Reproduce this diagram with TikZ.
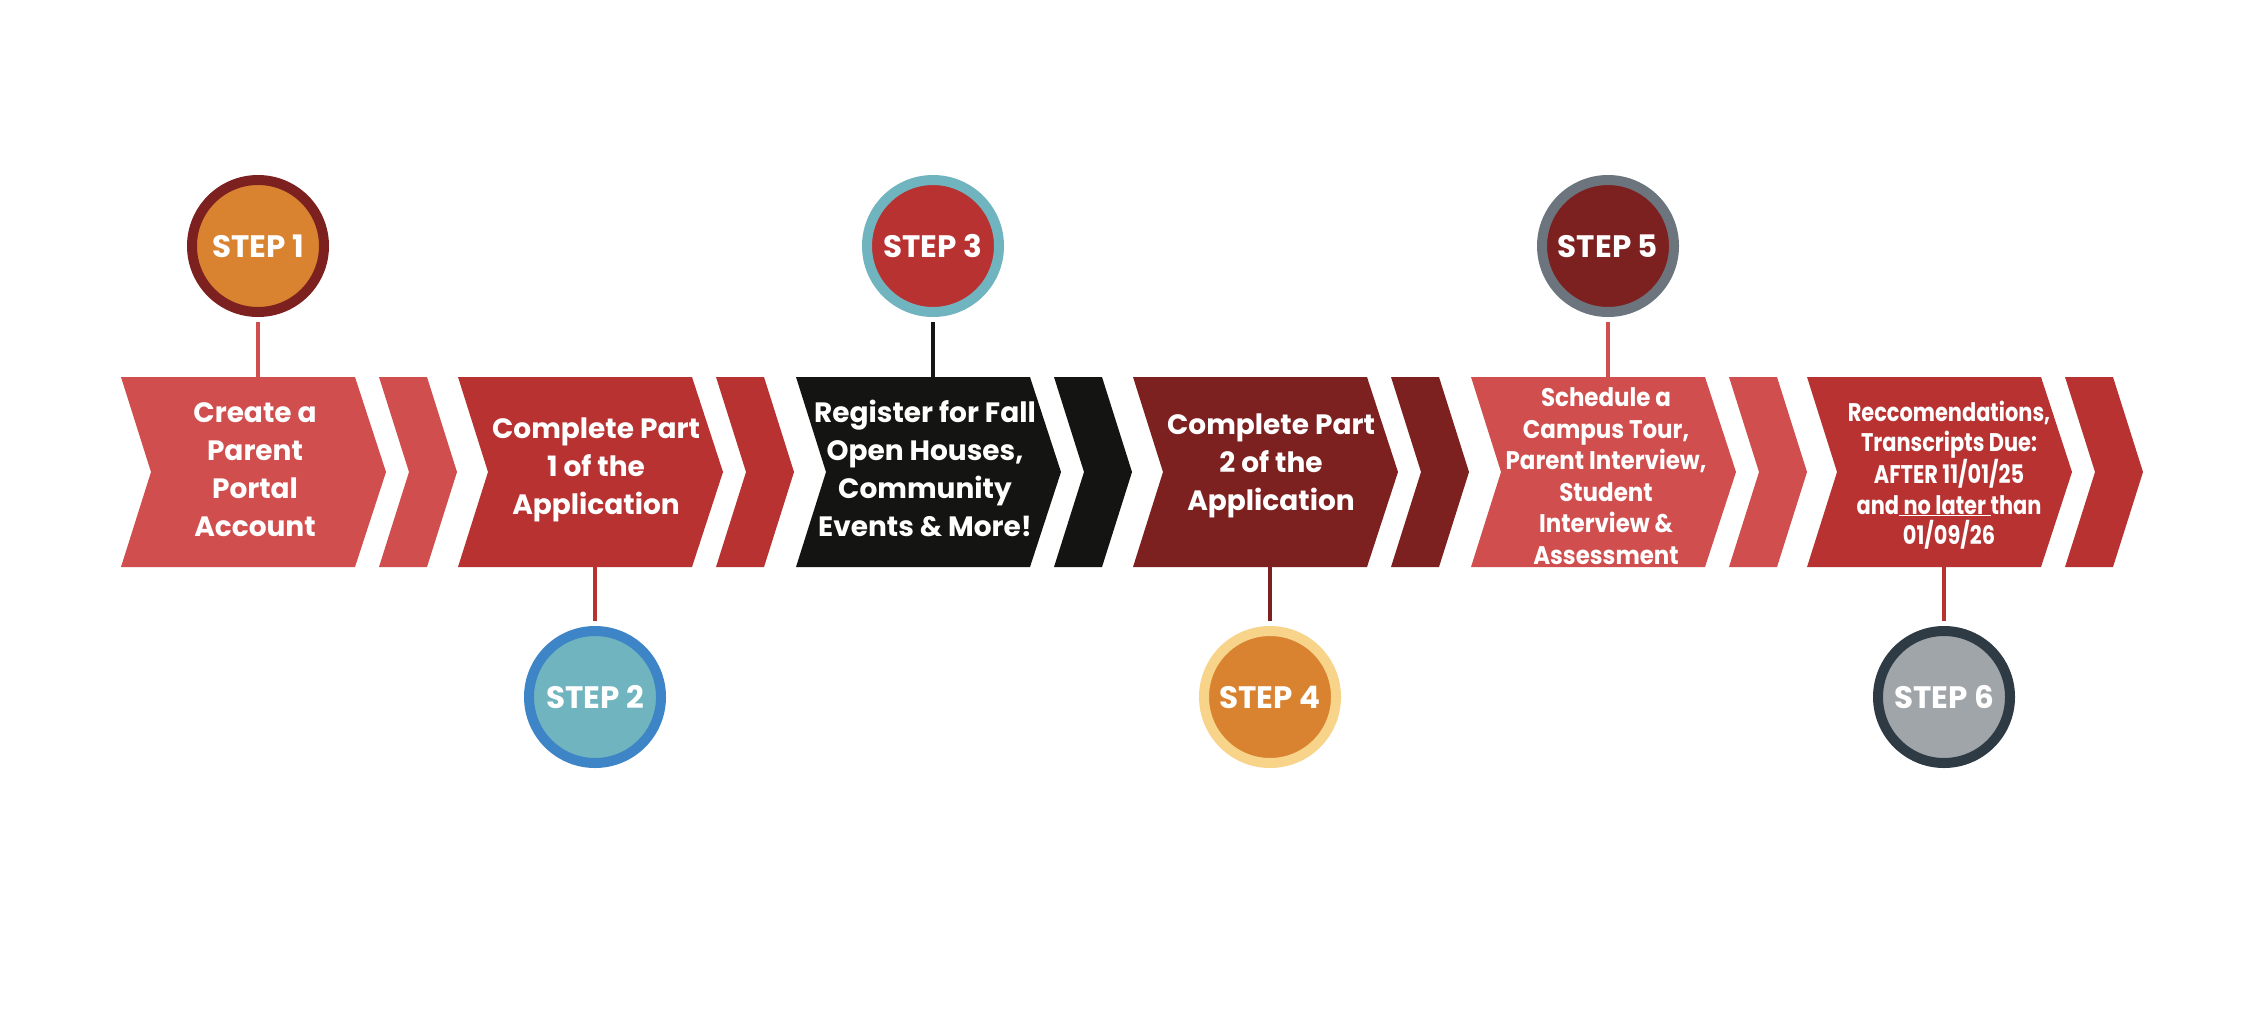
\documentclass[tikz,border=0pt]{standalone}
\usepackage{fontspec}
\setmainfont{Poppins}
\newfontfamily\condfont{Poppins}[FakeStretch=0.9]
\newfontfamily\narrowfont{Poppins}[FakeStretch=0.82]
\definecolor{lightred}{HTML}{D04E4E}
\definecolor{midred}{HTML}{B83232}
\definecolor{darkred}{HTML}{7D2020}
\definecolor{blackc}{HTML}{141412}
\definecolor{orangec}{HTML}{D98330}
\definecolor{tealc}{HTML}{70B4BF}
\definecolor{bluec}{HTML}{3D85C6}
\definecolor{yellowc}{HTML}{F7D48A}
\definecolor{grayc}{HTML}{6C757D}
\definecolor{lgrayc}{HTML}{A0A5A9}
\definecolor{slatec}{HTML}{2E3A44}
\newcommand\chevpair[2]{%
  \fill[#2] (#1,377) -- ++(234,0) -- ++(31,95) -- ++(-31,95) -- ++(-234,0) -- ++(30,-95) -- cycle;
  \fill[#2] (#1+258,377) -- ++(48,0) -- ++(30,95) -- ++(-30,95) -- ++(-48,0) -- ++(30,-95) -- cycle;
}
\begin{document}
\begin{tikzpicture}[x=1pt,y=-1pt,
  lbl/.style={text=white, align=center, inner sep=0pt, font=\fontsize{28}{38}\selectfont\bfseries},
  lblsmall/.style={text=white, align=center, inner sep=0pt, font=\condfont\fontsize{25.5}{31.5}\selectfont\bfseries},
  lblnarrow/.style={text=white, align=center, inner sep=0pt, font=\narrowfont\fontsize{25.5}{30.5}\selectfont\bfseries},
  stepcirc/.style={circle, minimum size=132pt, inner sep=0pt, line width=10pt, text=white, font=\fontsize{31}{36}\selectfont\bfseries},
  link/.style={line width=4pt},
]
\useasboundingbox (0,0) rectangle (2264,1026);
\fill[white] (0,0) rectangle (2264,1026);

% chevrons
\chevpair{121}{lightred}
\chevpair{458}{midred}
\chevpair{796}{blackc}
\chevpair{1133}{darkred}
\chevpair{1471}{lightred}
\chevpair{1807}{midred}

% connector end points on chevrons
\coordinate (t1) at (258,377);
\coordinate (b2) at (595,567);
\coordinate (t3) at (933,377);
\coordinate (b4) at (1270,567);
\coordinate (t5) at (1608,377);
\coordinate (b6) at (1944,567);

% step circles
\node[stepcirc, fill=orangec, draw=darkred] (s1) at (258,246) {STEP 1};
\node[stepcirc, fill=tealc, draw=bluec] (s2) at (595,697) {STEP 2};
\node[stepcirc, fill=midred, draw=tealc] (s3) at (933,246) {STEP 3};
\node[stepcirc, fill=orangec, draw=yellowc] (s4) at (1270,697) {STEP 4};
\node[stepcirc, fill=darkred, draw=grayc] (s5) at (1608,246) {STEP 5};
\node[stepcirc, fill=lgrayc, draw=slatec] (s6) at (1944,697) {STEP 6};

% connectors
\draw[link, lightred, shorten <=5pt] (s1.south) -- (t1);
\draw[link, midred, shorten <=5pt] (s2.north) -- (b2);
\draw[link, blackc, shorten <=5pt] (s3.south) -- (t3);
\draw[link, darkred, shorten <=5pt] (s4.north) -- (b4);
\draw[link, lightred, shorten <=5pt] (s5.south) -- (t5);
\draw[link, midred, shorten <=5pt] (s6.north) -- (b6);

% labels
\node[lbl] (c1) at (255,470) {Create a\\Parent\\Portal\\Account};
\node[lbl] (c2) at (596,470) {Complete Part\\1 of the\\Application};
\node[lbl] (c3) at (925,468) {Register for Fall\\Open Houses,\\Community\\Events \& More!};
\node[lbl] (c4) at (1271,466) {Complete Part\\2 of the\\Application};
\node[lblsmall] (c5) at (1606,476) {Schedule a\\Campus Tour,\\Parent Interview,\\Student\\Interview \&\\Assessment};
\node[lblnarrow] (c6) at (1949,475) {Reccomendations,\\Transcripts Due:\\AFTER 11/01/25\\and\underline{\ no later\ }than\\01/09/26};
\end{tikzpicture}
\end{document}
